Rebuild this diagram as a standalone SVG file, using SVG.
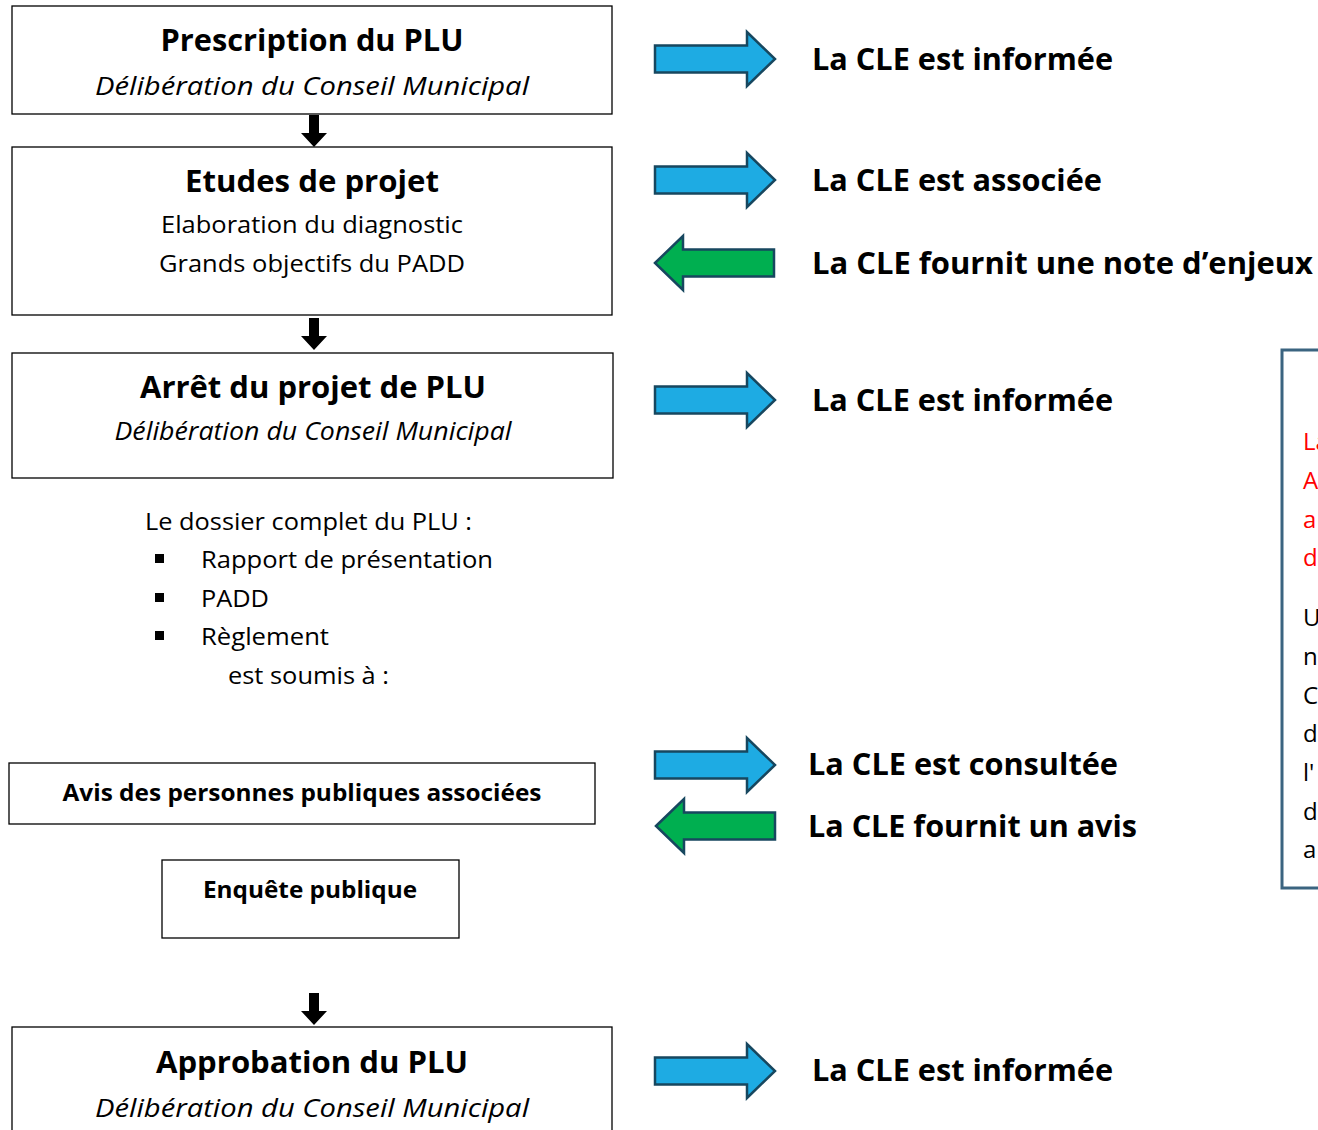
<svg xmlns="http://www.w3.org/2000/svg" width="1318" height="1130" viewBox="0 0 1318 1130">
<style>
.box{fill:#fff;stroke:#000;stroke-width:1.3}
.t{font-family:"Open Sans","Liberation Sans",sans-serif;fill:#000}
.h{font-size:31px;font-weight:bold;text-anchor:middle}
.i{font-size:26px;font-style:italic;text-anchor:middle}
.n{font-size:24px}
.c{text-anchor:middle}
.b{font-size:24px;font-weight:bold;text-anchor:middle}
.r{font-size:31px;font-weight:bold}
.blue{fill:#1eabe3;stroke:#17475f;stroke-width:2.5;stroke-linejoin:miter}
.green{fill:#00af50;stroke:#17475f;stroke-width:2.5}
.red{fill:#ff0000}
</style>
<defs>
<path id="ra" d="M0,-13.5 H92 V-27 L120,0 L92,27 V13.5 H0 Z"/>
<path id="la" d="M0,0 L28,-27 V-13.5 H119 V13.5 H28 V27 Z"/>
<path id="da" d="M-5,0 H5 V18 H13 L0,32 L-13,18 H-5 Z"/>
</defs>
<rect width="1318" height="1130" fill="#fff"/>

<g id="n1">
<rect class="box" x="12" y="6" width="600" height="108"/>
<text class="t h" x="312" y="51" textLength="303" lengthAdjust="spacingAndGlyphs">Prescription du PLU</text>
<text class="t i" x="312" y="95" textLength="434" lengthAdjust="spacingAndGlyphs">Délibération du Conseil Municipal</text>
</g>
<g id="n2">
<rect class="box" x="12" y="147" width="600" height="168"/>
<text class="t h" x="312" y="192" textLength="254" lengthAdjust="spacingAndGlyphs">Etudes de projet</text>
<text class="t n c" x="312" y="233" textLength="302" lengthAdjust="spacingAndGlyphs">Elaboration du diagnostic</text>
<text class="t n c" x="312" y="272" textLength="306" lengthAdjust="spacingAndGlyphs">Grands objectifs du PADD</text>
</g>
<g id="n3">
<rect class="box" x="12" y="353" width="601" height="125"/>
<text class="t h" x="313" y="398" textLength="346" lengthAdjust="spacingAndGlyphs">Arrêt du projet de PLU</text>
<text class="t i" x="313" y="440" textLength="397" lengthAdjust="spacingAndGlyphs">Délibération du Conseil Municipal</text>
</g>
<g id="dossier">
<text class="t n" x="145" y="530" textLength="327" lengthAdjust="spacingAndGlyphs">Le dossier complet du PLU :</text>
<rect x="155" y="554" width="9" height="9"/>
<text class="t n" x="201" y="568" textLength="292" lengthAdjust="spacingAndGlyphs">Rapport de présentation</text>
<rect x="155" y="593" width="9" height="9"/>
<text class="t n" x="201" y="607" textLength="68" lengthAdjust="spacingAndGlyphs">PADD</text>
<rect x="155" y="631" width="9" height="9"/>
<text class="t n" x="201" y="645" textLength="128" lengthAdjust="spacingAndGlyphs">Règlement</text>
<text class="t n" x="228" y="684" textLength="161" lengthAdjust="spacingAndGlyphs">est soumis à :</text>
</g>
<g id="n4">
<rect class="box" x="9" y="763" width="586" height="61"/>
<text class="t b" x="302" y="801" textLength="479" lengthAdjust="spacingAndGlyphs">Avis des personnes publiques associées</text>
</g>
<g id="n5">
<rect class="box" x="162" y="860" width="297" height="78"/>
<text class="t b" x="310" y="898" textLength="214" lengthAdjust="spacingAndGlyphs">Enquête publique</text>
</g>
<g id="n6">
<rect class="box" x="12" y="1027" width="600" height="110"/>
<text class="t h" x="312" y="1073" textLength="312" lengthAdjust="spacingAndGlyphs">Approbation du PLU</text>
<text class="t i" x="312" y="1117" textLength="434" lengthAdjust="spacingAndGlyphs">Délibération du Conseil Municipal</text>
</g>

<g id="connectors">
<use href="#da" x="314" y="115"/>
<use href="#da" x="314" y="318"/>
<use href="#da" x="314" y="993"/>
<use href="#ra" class="blue" x="655" y="59"/>
<use href="#ra" class="blue" x="655" y="180"/>
<use href="#la" class="green" x="655" y="263"/>
<use href="#ra" class="blue" x="655" y="400"/>
<use href="#ra" class="blue" x="655" y="765"/>
<use href="#la" class="green" x="656" y="826"/>
<use href="#ra" class="blue" x="655" y="1071"/>
</g>

<g id="labels">
<text class="t r" x="812" y="70" textLength="301" lengthAdjust="spacingAndGlyphs">La CLE est informée</text>
<text class="t r" x="812" y="191" textLength="290" lengthAdjust="spacingAndGlyphs">La CLE est associée</text>
<text class="t r" x="812" y="274" textLength="501" lengthAdjust="spacingAndGlyphs">La CLE fournit une note d’enjeux</text>
<text class="t r" x="812" y="411" textLength="301" lengthAdjust="spacingAndGlyphs">La CLE est informée</text>
<text class="t r" x="808" y="775" textLength="310" lengthAdjust="spacingAndGlyphs">La CLE est consultée</text>
<text class="t r" x="808" y="837" textLength="329" lengthAdjust="spacingAndGlyphs">La CLE fournit un avis</text>
<text class="t r" x="812" y="1081" textLength="301" lengthAdjust="spacingAndGlyphs">La CLE est informée</text>
</g>

<g id="note">
<rect x="1282" y="350" width="60" height="538" fill="#fff" stroke="#3b6480" stroke-width="3"/>
<text class="t n red" x="1303" y="450">La</text>
<text class="t n red" x="1303" y="489">A</text>
<text class="t n red" x="1303" y="528">a</text>
<text class="t n red" x="1303" y="566">d</text>
<text class="t n" x="1303" y="626">U</text>
<text class="t n" x="1303" y="665">n</text>
<text class="t n" x="1303" y="704">C</text>
<text class="t n" x="1303" y="742">d</text>
<text class="t n" x="1303" y="781">l'</text>
<text class="t n" x="1303" y="820">d</text>
<text class="t n" x="1303" y="858">a</text>
</g>
</svg>
